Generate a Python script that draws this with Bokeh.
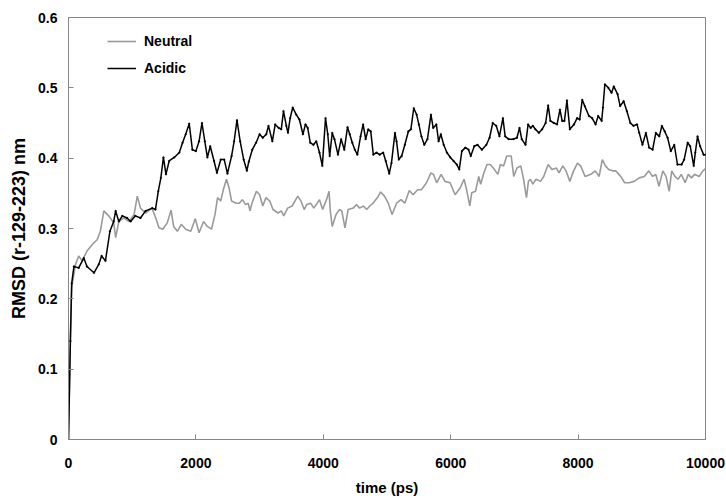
from bokeh.plotting import figure
from bokeh.models import Range1d, FixedTicker, Legend, LegendItem, ColumnDataSource
from bokeh.embed import file_html
from bokeh.resources import INLINE

# Neutral (gray) series: time (ps), RMSD (nm)
neutral_t = [0, 30, 50, 110, 160, 215, 290, 370, 450, 500, 555, 630, 710, 740, 790, 870, 950, 1030, 1080, 1130, 1210, 1310, 1370, 1420, 1480, 1550, 1610, 1650, 1710, 1770, 1840, 1920, 1990, 2050, 2120, 2180, 2245, 2300, 2340, 2390, 2430, 2480, 2520, 2560, 2630, 2680, 2730, 2780, 2820, 2850, 2880, 2950, 3000, 3050, 3100, 3160, 3210, 3290, 3340, 3380, 3440, 3510, 3600, 3650, 3700, 3740, 3800, 3850, 3890, 3940, 3990, 4050, 4090, 4110, 4140, 4200, 4255, 4290, 4340, 4390, 4470, 4520, 4570, 4630, 4680, 4730, 4780, 4850, 4900, 4960, 5020, 5080, 5150, 5220, 5280, 5350, 5410, 5480, 5540, 5620, 5690, 5730, 5780, 5850, 5910, 5990, 6070, 6150, 6210, 6250, 6300, 6330, 6390, 6440, 6470, 6520, 6570, 6620, 6670, 6740, 6780, 6830, 6880, 6950, 6990, 7040, 7100, 7140, 7190, 7220, 7250, 7290, 7340, 7410, 7460, 7530, 7590, 7660, 7700, 7760, 7810, 7870, 7930, 7990, 8040, 8110, 8200, 8270, 8330, 8380, 8430, 8480, 8540, 8590, 8640, 8670, 8730, 8800, 8880, 8960, 9040, 9110, 9170, 9220, 9270, 9330, 9380, 9430, 9470, 9520, 9570, 9620, 9680, 9730, 9780, 9830, 9900, 9960, 10000]
neutral_v = [0.0, 0.15, 0.216, 0.249, 0.261, 0.254, 0.268, 0.277, 0.284, 0.296, 0.325, 0.318, 0.308, 0.287, 0.310, 0.315, 0.310, 0.320, 0.346, 0.329, 0.322, 0.329, 0.315, 0.301, 0.299, 0.308, 0.326, 0.303, 0.296, 0.306, 0.299, 0.296, 0.314, 0.294, 0.310, 0.303, 0.299, 0.320, 0.344, 0.339, 0.355, 0.370, 0.358, 0.339, 0.336, 0.336, 0.341, 0.334, 0.336, 0.325, 0.336, 0.353, 0.348, 0.332, 0.344, 0.339, 0.327, 0.322, 0.325, 0.318, 0.329, 0.332, 0.346, 0.339, 0.327, 0.334, 0.336, 0.329, 0.334, 0.341, 0.327, 0.341, 0.353, 0.325, 0.303, 0.320, 0.327, 0.325, 0.301, 0.327, 0.329, 0.334, 0.329, 0.332, 0.327, 0.332, 0.336, 0.344, 0.352, 0.346, 0.336, 0.320, 0.336, 0.341, 0.336, 0.354, 0.348, 0.355, 0.355, 0.365, 0.379, 0.377, 0.365, 0.377, 0.367, 0.365, 0.348, 0.358, 0.370, 0.355, 0.332, 0.351, 0.353, 0.374, 0.363, 0.379, 0.391, 0.391, 0.386, 0.377, 0.391, 0.389, 0.403, 0.403, 0.374, 0.386, 0.389, 0.372, 0.344, 0.367, 0.370, 0.363, 0.370, 0.367, 0.374, 0.391, 0.384, 0.386, 0.379, 0.389, 0.382, 0.367, 0.382, 0.393, 0.389, 0.374, 0.377, 0.382, 0.374, 0.398, 0.389, 0.384, 0.382, 0.382, 0.377, 0.374, 0.365, 0.365, 0.367, 0.372, 0.374, 0.382, 0.374, 0.377, 0.360, 0.382, 0.374, 0.353, 0.382, 0.374, 0.370, 0.377, 0.365, 0.377, 0.372, 0.377, 0.374, 0.382, 0.385]

# Acidic (black) series: time (ps), RMSD (nm)
acidic_t = [0, 30, 50, 85, 160, 240, 290, 400, 475, 520, 580, 650, 710, 740, 790, 845, 920, 975, 1050, 1130, 1210, 1315, 1365, 1410, 1450, 1490, 1530, 1580, 1660, 1740, 1790, 1840, 1895, 1945, 2000, 2050, 2095, 2140, 2180, 2225, 2285, 2330, 2390, 2445, 2495, 2560, 2600, 2645, 2695, 2750, 2800, 2830, 2885, 2945, 3000, 3050, 3105, 3140, 3200, 3245, 3300, 3340, 3375, 3420, 3445, 3480, 3520, 3575, 3625, 3680, 3720, 3755, 3795, 3845, 3890, 3940, 3985, 4035, 4070, 4100, 4140, 4175, 4230, 4280, 4330, 4380, 4415, 4455, 4495, 4535, 4585, 4625, 4665, 4705, 4745, 4785, 4835, 4885, 4940, 4980, 5035, 5070, 5125, 5150, 5185, 5230, 5280, 5335, 5375, 5420, 5465, 5500, 5540, 5585, 5635, 5690, 5725, 5775, 5810, 5845, 5890, 5940, 5995, 6045, 6095, 6135, 6175, 6230, 6280, 6315, 6370, 6420, 6490, 6560, 6610, 6660, 6715, 6765, 6820, 6855, 6910, 6985, 7040, 7080, 7115, 7175, 7215, 7255, 7290, 7330, 7385, 7435, 7490, 7530, 7565, 7620, 7670, 7715, 7750, 7785, 7825, 7870, 7935, 7985, 8025, 8065, 8105, 8170, 8220, 8275, 8315, 8370, 8390, 8420, 8475, 8525, 8560, 8620, 8660, 8715, 8765, 8820, 8870, 8925, 8960, 9010, 9065, 9115, 9170, 9220, 9275, 9315, 9360, 9405, 9455, 9510, 9560, 9625, 9665, 9720, 9760, 9815, 9840, 9875, 9915, 9970, 10000]
acidic_v = [0.0, 0.14, 0.222, 0.246, 0.244, 0.258, 0.246, 0.237, 0.249, 0.261, 0.254, 0.296, 0.310, 0.325, 0.310, 0.318, 0.315, 0.310, 0.318, 0.315, 0.325, 0.329, 0.327, 0.353, 0.372, 0.401, 0.377, 0.396, 0.401, 0.408, 0.422, 0.434, 0.449, 0.412, 0.410, 0.424, 0.450, 0.424, 0.401, 0.417, 0.396, 0.379, 0.398, 0.398, 0.378, 0.403, 0.424, 0.454, 0.424, 0.398, 0.382, 0.395, 0.412, 0.422, 0.434, 0.429, 0.434, 0.446, 0.424, 0.448, 0.443, 0.441, 0.467, 0.446, 0.436, 0.457, 0.472, 0.462, 0.455, 0.434, 0.448, 0.443, 0.422, 0.419, 0.424, 0.408, 0.389, 0.457, 0.434, 0.403, 0.436, 0.427, 0.405, 0.427, 0.412, 0.444, 0.434, 0.422, 0.412, 0.405, 0.431, 0.448, 0.427, 0.441, 0.438, 0.405, 0.408, 0.405, 0.408, 0.396, 0.378, 0.393, 0.436, 0.424, 0.398, 0.403, 0.419, 0.438, 0.441, 0.471, 0.462, 0.448, 0.431, 0.419, 0.427, 0.462, 0.443, 0.448, 0.424, 0.434, 0.419, 0.408, 0.401, 0.396, 0.391, 0.384, 0.410, 0.415, 0.412, 0.403, 0.417, 0.419, 0.412, 0.419, 0.429, 0.450, 0.446, 0.431, 0.457, 0.431, 0.427, 0.427, 0.429, 0.443, 0.427, 0.419, 0.448, 0.443, 0.446, 0.441, 0.436, 0.441, 0.450, 0.475, 0.453, 0.450, 0.448, 0.469, 0.453, 0.453, 0.482, 0.441, 0.448, 0.457, 0.455, 0.483, 0.474, 0.460, 0.457, 0.448, 0.460, 0.453, 0.472, 0.505, 0.500, 0.493, 0.502, 0.491, 0.474, 0.481, 0.467, 0.450, 0.446, 0.448, 0.436, 0.419, 0.436, 0.415, 0.412, 0.436, 0.431, 0.446, 0.438, 0.429, 0.410, 0.419, 0.391, 0.391, 0.398, 0.422, 0.417, 0.389, 0.408, 0.431, 0.417, 0.405, 0.405]

x_ticks = [0, 2000, 4000, 6000, 8000, 10000]
x_tick_labels = ["0", "2000", "4000", "6000", "8000", "10000"]
y_ticks = [0, 0.1, 0.2, 0.3, 0.4, 0.5, 0.6]
y_tick_labels = ["0", "0.1", "0.2", "0.3", "0.4", "0.5", "0.6"]

FONT = "Liberation Sans"
AXIS_GRAY = "#868686"

p = figure(frame_width=637, frame_height=422,
           x_range=Range1d(0, 10000), y_range=Range1d(0, 0.6),
           output_backend="svg", toolbar_location=None,
           min_border_left=68, min_border_right=20,
           min_border_top=17, min_border_bottom=58)
p.background_fill_color = "white"
p.border_fill_color = "white"
p.outline_line_color = AXIS_GRAY
p.outline_line_width = 1
p.xgrid.visible = False
p.ygrid.visible = False

src_n = ColumnDataSource(dict(t=neutral_t, v=neutral_v))
src_a = ColumnDataSource(dict(t=acidic_t, v=acidic_v))

g = p.line("t", "v", source=src_n, line_color="#9a9a9a", line_width=1.6)
bl = p.line("t", "v", source=src_a, line_color="black", line_width=1.5)
bs = p.scatter("t", "v", source=src_a, size=1.8, marker="circle",
               fill_color="black", line_color="black", line_width=0.3)

p.xaxis.ticker = FixedTicker(ticks=x_ticks)
p.xaxis.major_label_overrides = {t: l for t, l in zip(x_ticks, x_tick_labels)}
p.yaxis.ticker = FixedTicker(ticks=y_ticks)
p.yaxis.major_label_overrides = {t: l for t, l in zip(y_ticks, y_tick_labels)}

for ax in (p.xaxis, p.yaxis):
    ax.axis_line_color = AXIS_GRAY
    ax.major_tick_line_color = AXIS_GRAY
    ax.major_tick_in = 5
    ax.major_tick_out = 0
    ax.minor_tick_line_color = None
    ax.major_label_text_font = FONT
    ax.major_label_text_font_style = "bold"
    ax.major_label_text_font_size = "14px"
    ax.major_label_text_color = "black"
    ax.axis_label_text_font = FONT
    ax.axis_label_text_font_style = "bold"
    ax.axis_label_text_color = "black"

p.xaxis.axis_label = "time (ps)"
p.xaxis.axis_label_text_font_size = "15px"
p.xaxis.major_label_standoff = 18
p.xaxis.axis_label_standoff = 8
p.yaxis.axis_label = "RMSD (r-129-223) nm"
p.yaxis.axis_label_text_font_size = "18px"
p.yaxis.major_label_standoff = 11
p.yaxis.axis_label_standoff = 6

legend = Legend(items=[LegendItem(label="Neutral", renderers=[g]),
                       LegendItem(label="Acidic", renderers=[bl])],
                location=(39, 361))
legend.label_text_font = FONT
legend.label_text_font_style = "bold"
legend.label_text_font_size = "14px"
legend.label_text_color = "black"
legend.border_line_color = None
legend.background_fill_alpha = 0
legend.padding = 0
legend.margin = 0
legend.spacing = 7
legend.glyph_width = 29
legend.glyph_height = 20
legend.label_height = 20
legend.label_standoff = 8
p.add_layout(legend)

open("out.html", "w").write(file_html(p, INLINE))
